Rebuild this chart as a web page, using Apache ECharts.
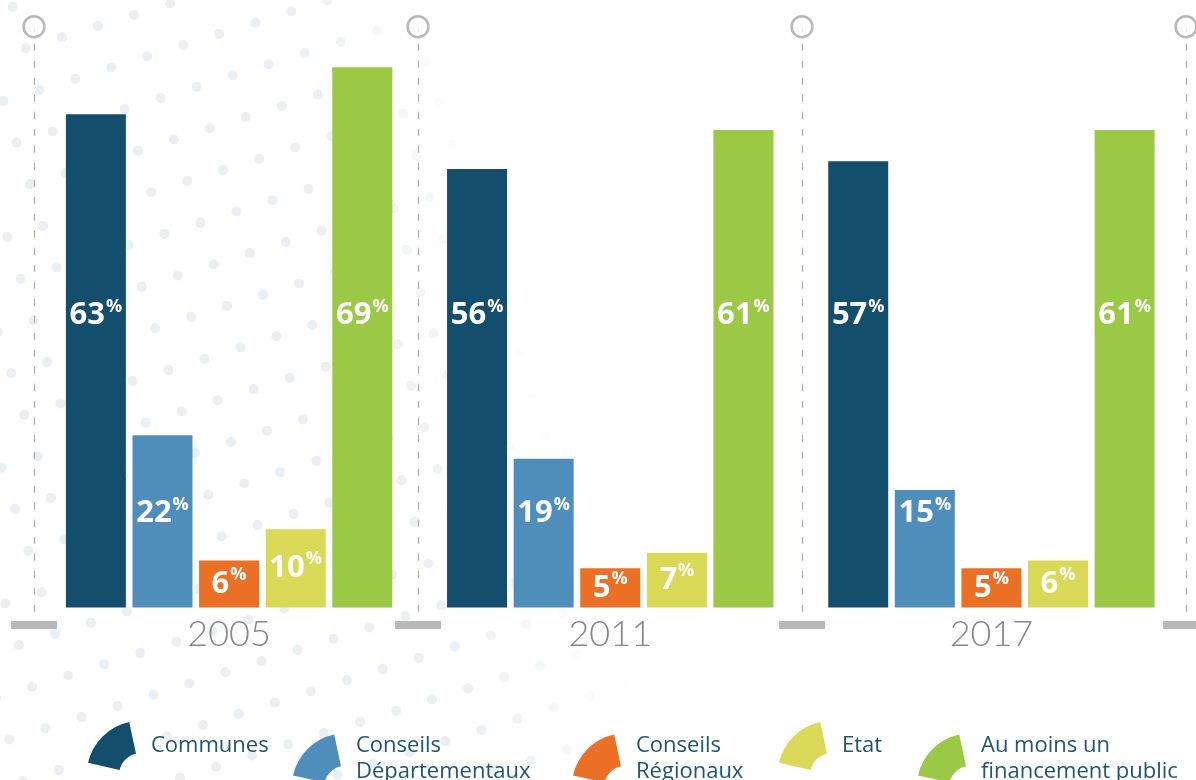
<!DOCTYPE html>
<html><head><meta charset="utf-8">
<script src="https://cdn.jsdelivr.net/npm/echarts@6/dist/echarts.min.js"></script>
<style>html,body{margin:0;padding:0;background:#fff}#c{width:1196px;height:780px}</style>
</head><body><div id="c"></div>
<script>
// ---- data ----
const years = ['2005', '2011', '2017'];
const communes = [63, 56, 57];
const conseilsDepartementaux = [22, 19, 15];
const conseilsRegionaux = [6, 5, 5];
const etat = [10, 7, 6];
const auMoinsUn = [69, 61, 61];
const seriesNames = ['Communes', 'Conseils\nDépartementaux', 'Conseils\nRégionaux', 'Etat', 'Au moins un\nfinancement public'];
const seriesValues = [communes, conseilsDepartementaux, conseilsRegionaux, etat, auMoinsUn];
const dividerTicks = [0, 1, 2, 3];

// ---- styles ----
const colors = ['#134f6c', '#4f8ebb', '#ea7026', '#d9d957', '#9bc945'];
const legendLefts = [88, 293, 573, 779, 918];
const fanIcon = 'path://M-11.3,-52.8 A54,54 0 0 0 -52.7,-11.8 L-21,-4.7 A21.5,21.5 0 0 1 -4.5,-21 Z';
const labelFont = '"Open Sans", Lato, sans-serif';
const yearFont = 'Lato, "Open Sans", sans-serif';
const textFont = '"Open Sans", Lato, sans-serif';

// label anchor rule (visual placement of the value label inside each bar)
function labelAnchor(v) { return v >= 40 ? 37.3 : (v >= 12 ? 12 : v / 2); }

function buildData(vals) {
  return vals.map(v => ({
    value: v,
    label: { position: ['50%', ((v - labelAnchor(v)) / v * 100) + '%'] }
  }));
}

const barSeries = seriesNames.map((name, k) => ({
  name: name,
  type: 'bar',
  xAxisIndex: 0, yAxisIndex: 0,
  barWidth: 60,
  barGap: '11%',
  z: 5,
  itemStyle: { color: colors[k] },
  data: buildData(seriesValues[k]),
  label: {
    show: true,
    align: 'center',
    verticalAlign: 'middle',
    formatter: p => '{n|' + p.value + '}{p|%}',
    rich: {
      n: { fontFamily: labelFont, fontWeight: 'bold', fontSize: 31, color: '#fff', lineHeight: 36 },
      p: { fontFamily: labelFont, fontWeight: 'bold', fontSize: 18, color: '#fff', lineHeight: 24, verticalAlign: 'top', padding: [0, 0, 0, 1] }
    }
  },
  emphasis: { disabled: true },
  silent: true
}));

// background dots (decoration)
const dots = [];
for (let i = -40; i <= 60; i++) {
  for (let j = -25; j <= 40; j++) {
    const x = 12.7 + i * 36 + j * 13.3;
    const y = 6.7 - i * 11.2 + j * 41.6;
    if (x < -6 || x > 1202 || y < -6 || y > 786) continue;
    const edge = 460 + 0.25 * y;
    const a = Math.max(0, Math.min(1, (edge - x) / 180));
    if (a <= 0.02) continue;
    dots.push({ type: 'circle', shape: { cx: x, cy: y, r: 5 }, style: { fill: '#e9eff3', opacity: a }, silent: true, z: 0 });
  }
}

const legends = seriesNames.map((name, k) => {
  const twoLines = name.indexOf('\n') >= 0;
  return {
    data: [name],
    left: legendLefts[k],
    top: 722,
    padding: 0,
    itemWidth: 48,
    itemHeight: 48,
    icon: fanIcon,
    selectedMode: false,
    textStyle: {
      fontFamily: textFont,
      fontSize: 22,
      color: '#1f5572',
      lineHeight: 26,
      padding: twoLines ? [21, 0, 0, 10] : [0, 0, 5, 10]
    }
  };
});

const chart = echarts.init(document.getElementById('c'), null, { renderer: 'canvas' });
chart.setOption({
  animation: false,
  backgroundColor: '#ffffff',
  graphic: { elements: dots },
  grid: [
    { left: 38.5, right: 14, top: 59.5, bottom: 172.5 },
    { left: 34, right: 10, top: 26.7, bottom: 165 }
  ],
  xAxis: [
    {
      type: 'category', gridIndex: 0, data: years,
      axisLine: { show: false }, axisTick: { show: false }, splitLine: { show: false },
      axisLabel: { fontFamily: yearFont, fontWeight: 300, fontSize: 36, color: '#878787', margin: 9, lineHeight: 36 }
    },
    {
      type: 'value', gridIndex: 1, min: 0, max: 3, interval: 1,
      axisLine: { show: false }, axisTick: { show: false }, axisLabel: { show: false },
      splitLine: { show: true, lineStyle: { color: '#a9a9a9', width: 1.2, type: [7, 10] } }
    }
  ],
  yAxis: [
    { type: 'value', gridIndex: 0, min: 0, max: 70, show: false },
    { type: 'value', gridIndex: 1, min: 0, max: 1, show: false }
  ],
  legend: legends,
  series: barSeries.concat([
    {
      type: 'scatter', xAxisIndex: 1, yAxisIndex: 1, silent: true, clip: false, z: 6,
      symbol: 'circle', symbolSize: 21,
      itemStyle: { color: '#ffffff', borderColor: '#a8a8aa', borderWidth: 2.5 },
      data: dividerTicks.map(t => [t, 1])
    },
    {
      type: 'scatter', xAxisIndex: 1, yAxisIndex: 1, silent: true, clip: false, z: 6,
      symbol: 'rect', symbolSize: [46, 8], symbolOffset: [0, 10],
      itemStyle: { color: '#a8a8ab' },
      data: dividerTicks.map(t => [t, 0])
    }
  ])
});
</script>
</body></html>
